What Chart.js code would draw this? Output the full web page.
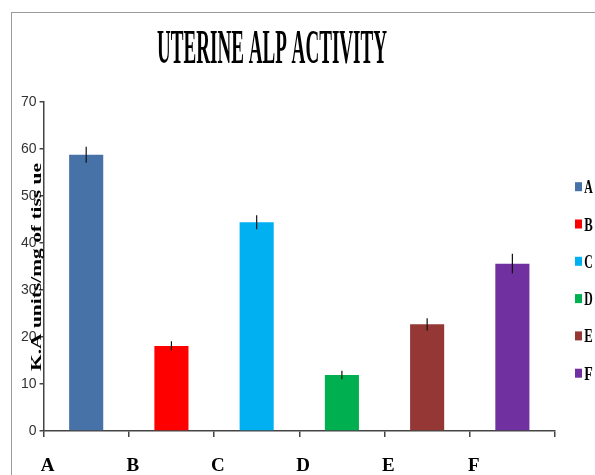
<!DOCTYPE html>
<html>
<head>
<meta charset="utf-8">
<script src="https://cdn.jsdelivr.net/npm/chart.js@4.4.1/dist/chart.umd.min.js"></script>
<style>
  html, body { margin: 0; padding: 0; background: #fff; }
  #wrap { position: relative; width: 595px; height: 475px; overflow: hidden; }
  #frame { position: absolute; left: 11px; top: 12px; width: 600px; height: 480px;
           border-left: 1.5px solid #9a9a9a; border-top: 1.5px solid #9a9a9a; }
  canvas { position: absolute; left: 0; top: 0; }
</style>
</head>
<body>
<div id="wrap">
  <div id="frame"></div>
  <canvas id="grafico" width="595" height="475"></canvas>
</div>
<script>
const categorias = ['A', 'B', 'C', 'D', 'E', 'F'];
const valores = [58.8, 18.1, 44.4, 11.9, 22.7, 35.6];
const erros = [1.7, 1.0, 1.5, 0.9, 1.3, 2.1];
const cores = ['#4672a8', '#ff0000', '#00b0f0', '#00b050', '#953735', '#7030a0'];
const tituloGrafico = 'UTERINE ALP ACTIVITY';
const tituloEixoY = 'K.A units/mg of tiss ue';

// texto "apertado" como no original (fonte condensada)
function textoEstreito(ctx, texto, x, y, fonte, largura) {
    ctx.save();
    ctx.font = fonte;
    const w = ctx.measureText(texto).width;
    ctx.translate(x, y);
    ctx.scale(largura / w, 1);
    ctx.textAlign = 'center';
    ctx.fillStyle = '#000';
    ctx.fillText(texto, 0, 0);
    ctx.restore();
}

const extras = {
    id: 'extras',
    afterDatasetsDraw(chart) {
        const ctx = chart.ctx;
        const meta = chart.getDatasetMeta(0);
        const y = chart.scales.y;
        // barras de erro
        ctx.save();
        ctx.strokeStyle = '#111';
        ctx.lineWidth = 1.2;
        meta.data.forEach((barra, i) => {
            ctx.beginPath();
            ctx.moveTo(barra.x, y.getPixelForValue(valores[i] + erros[i]));
            ctx.lineTo(barra.x, y.getPixelForValue(valores[i] - erros[i]));
            ctx.stroke();
        });
        ctx.restore();
    },
    afterDraw(chart) {
        const ctx = chart.ctx;
        textoEstreito(ctx, tituloGrafico, 272, 63, 'bold 48px "Liberation Serif"', 230);

        ctx.save();
        ctx.translate(37, 267);
        ctx.rotate(-Math.PI / 2);
        ctx.textBaseline = 'middle';
        textoEstreito(ctx, tituloEixoY, 0, 0, 'bold 14px "Liberation Serif"', 208);
        ctx.restore();

        // legenda (uma entrada por categoria)
        categorias.forEach((c, i) => {
            const yc = 186.7 + 37.3 * i;
            ctx.fillStyle = cores[i];
            ctx.fillRect(575, yc - 4.5, 7, 9);
            ctx.textBaseline = 'alphabetic';
            textoEstreito(ctx, c, 588.5, yc + 6.5, 'bold 19px "Liberation Serif"', 8.5);
        });
    }
};

const ctx = document.getElementById('grafico').getContext('2d');
new Chart(ctx, {
    type: 'bar',
    data: {
        labels: categorias,
        datasets: [{
            data: valores,
            backgroundColor: cores,
            borderWidth: 0,
            categoryPercentage: 1.0,
            barPercentage: 0.4
        }]
    },
    options: {
        responsive: false,
        animation: false,
        layout: { padding: { top: 102, bottom: -20, left: 18, right: 40 } },
        plugins: {
            title: { display: false },
            tooltip: { enabled: false },
            legend: { display: false }
        },
        scales: {
            x: {
                border: { color: '#444', width: 1.5 },
                grid: { drawOnChartArea: false, drawTicks: true, tickLength: 6, color: '#444', lineWidth: 1.5 },
                ticks: {
                    color: '#000',
                    padding: 17.6,
                    labelOffset: -38.7,
                    font: { family: '"Liberation Serif"', weight: 'bold', size: 19 }
                }
            },
            y: {
                min: 0,
                max: 70,
                border: { color: '#444', width: 1.5 },
                grid: { drawOnChartArea: false, drawTicks: true, tickLength: 4, color: '#444', lineWidth: 1.5 },
                ticks: {
                    stepSize: 10,
                    color: '#333',
                    padding: 3,
                    font: { family: '"Liberation Sans Narrow", "Liberation Sans", sans-serif', size: 14 }
                }
            }
        }
    },
    plugins: [extras]
});
</script>
</body>
</html>
